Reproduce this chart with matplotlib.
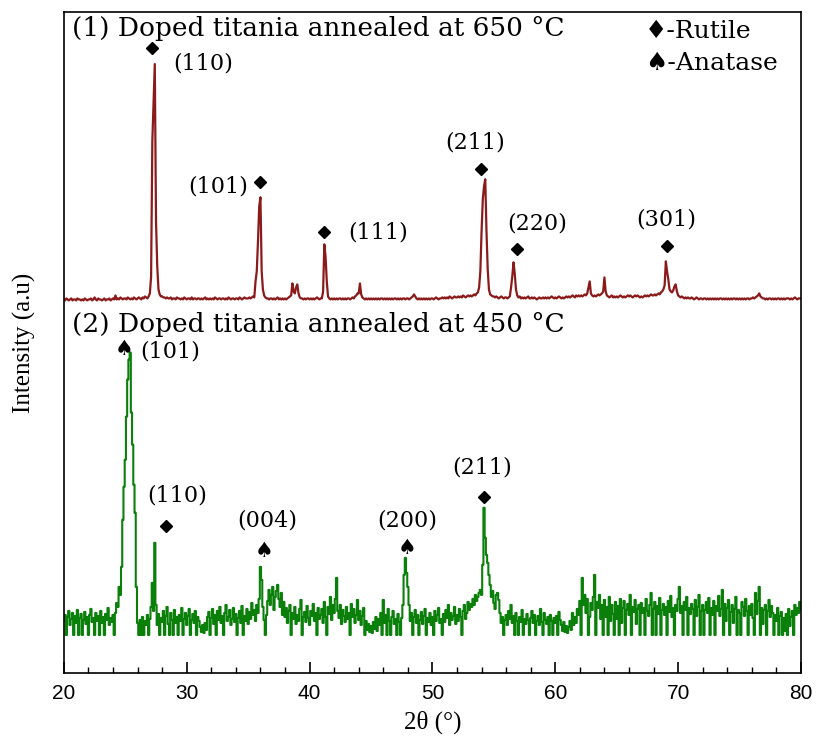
import numpy as np
import matplotlib
matplotlib.use("Agg")
import matplotlib.pyplot as plt
from matplotlib.ticker import MultipleLocator

# scan grid: 20-80 deg, 0.1 deg step
two_theta = np.round(np.arange(20.0, 80.05, 0.1), 1)

# (1) annealed at 650 C, intensity above its baseline
red_counts = [
    2, 1, 3, 2, 1, 2, 3, 1, 2, 2,          # 20
    1, 3, 2, 2, 1, 2, 1, 3, 2, 1,          # 21
    2, 2, 3, 1, 2, 4, 2, 1, 3, 2,          # 22
    2, 1, 2, 3, 1, 2, 2, 3, 1, 2,          # 23
    3, 2, 6, 2, 3, 2, 4, 3, 2, 3,          # 24
    3, 2, 4, 3, 2, 3, 2, 4, 3, 2,          # 25
    3, 4, 3, 2, 4, 3, 5, 4, 3, 5,          # 26
    8, 25, 160, 200, 237, 80, 35, 12, 7, 5,  # 27
    5, 4, 4, 3, 4, 3, 3, 4, 2, 3,          # 28
    3, 2, 4, 3, 3, 2, 3, 2, 4, 3,          # 29
    2, 3, 3, 2, 4, 2, 3, 3, 2, 3,          # 30
    3, 2, 3, 2, 3, 4, 2, 3, 2, 3,          # 31
    2, 3, 2, 4, 3, 2, 3, 3, 2, 3,          # 32
    3, 2, 3, 2, 4, 3, 2, 3, 3, 2,          # 33
    3, 3, 2, 4, 3, 2, 3, 4, 3, 3,          # 34
    3, 4, 3, 4, 5, 4, 20, 30, 60, 95,      # 35
    104, 30, 12, 6, 4, 3, 3, 2, 3, 3,      # 36
    2, 3, 2, 3, 4, 2, 3, 2, 3, 2,          # 37
    3, 2, 3, 4, 5, 6, 18, 10, 8, 14,       # 38
    17, 8, 4, 3, 3, 2, 3, 2, 3, 3,         # 39
    2, 3, 2, 3, 2, 3, 4, 3, 2, 3,          # 40
    3, 10, 57, 45, 20, 5, 3, 2, 3, 2,      # 41
    3, 2, 3, 2, 3, 3, 2, 3, 2, 3,          # 42
    2, 3, 3, 2, 3, 4, 3, 5, 6, 8,          # 43
    8, 18, 7, 4, 3, 2, 3, 2, 3, 2,         # 44
    3, 2, 3, 2, 3, 2, 3, 2, 3, 3,          # 45
    2, 3, 2, 3, 2, 3, 2, 3, 2, 3,          # 46
    3, 2, 3, 2, 3, 2, 3, 3, 2, 3,          # 47
    3, 2, 3, 4, 5, 7, 5, 3, 2, 3,          # 48
    2, 3, 2, 3, 2, 3, 2, 3, 2, 3,          # 49
    3, 2, 3, 4, 3, 2, 3, 3, 4, 3,          # 50
    4, 3, 4, 3, 5, 4, 3, 4, 5, 4,          # 51
    4, 5, 4, 5, 4, 6, 5, 4, 5, 6,          # 52
    5, 6, 5, 6, 7, 6, 8, 9, 14, 30,        # 53
    70, 102, 115, 122, 70, 32, 12, 7, 6, 5,  # 54
    5, 4, 5, 4, 3, 4, 5, 4, 3, 4,          # 55
    4, 3, 4, 5, 14, 25, 39, 28, 12, 6,     # 56
    4, 5, 3, 4, 3, 4, 3, 4, 5, 3,          # 57
    3, 4, 3, 4, 3, 2, 3, 4, 3, 3,          # 58
    4, 3, 4, 3, 4, 3, 4, 5, 4, 3,          # 59
    4, 3, 4, 5, 4, 3, 4, 3, 4, 5,          # 60
    4, 5, 4, 5, 6, 5, 4, 6, 5, 6,          # 61
    5, 6, 5, 6, 7, 6, 8, 14, 20, 8,        # 62
    6, 5, 6, 5, 6, 7, 6, 7, 8, 10,         # 63
    24, 10, 6, 5, 4, 5, 6, 4, 5, 4,        # 64
    5, 4, 5, 6, 5, 4, 5, 4, 5, 6,          # 65
    5, 6, 5, 4, 5, 6, 5, 6, 5, 4,          # 66
    5, 4, 5, 6, 5, 6, 5, 6, 7, 6,          # 67
    6, 7, 6, 7, 8, 7, 9, 10, 12, 16,       # 68
    40, 30, 22, 12, 10, 9, 11, 15, 17, 10,  # 69
    6, 5, 4, 5, 4, 3, 4, 3, 4, 3,          # 70
    3, 4, 3, 2, 3, 4, 3, 2, 3, 3,          # 71
    2, 3, 3, 2, 3, 2, 3, 2, 3, 2,          # 72
    3, 2, 3, 2, 3, 3, 2, 3, 2, 3,          # 73
    2, 3, 2, 3, 2, 3, 3, 2, 3, 2,          # 74
    3, 2, 3, 2, 3, 2, 3, 3, 2, 3,          # 75
    3, 4, 3, 4, 5, 6, 8, 5, 4, 3,          # 76
    3, 2, 3, 2, 3, 3, 2, 3, 2, 3,          # 77
    2, 3, 3, 2, 3, 2, 3, 2, 3, 3,          # 78
    3, 2, 3, 2, 3, 4, 3, 2, 3, 3,          # 79
    3,                                     # 80
]

# (2) annealed at 450 C, intensity above its baseline
green_counts = [
    14, 20, 0, 18, 24, 10, 16, 22, 0, 19,        # 20
    12, 25, 0, 17, 21, 0, 15, 23, 11, 18,        # 21
    0, 20, 26, 13, 17, 0, 22, 14, 19, 0,         # 22
    24, 12, 18, 0, 21, 15, 27, 10, 17, 13,       # 23
    20, 0, 22, 32, 28, 48, 40, 68, 115, 148,     # 24
    175, 218, 255, 275, 282, 222, 190, 150, 122, 48,  # 25
    12, 0, 15, 0, 18, 0, 14, 10, 20, 0,          # 26
    16, 28, 52, 24, 92, 30, 10, 21, 0, 17,       # 27
    13, 24, 0, 19, 28, 11, 0, 22, 15, 0,         # 28
    25, 12, 18, 0, 20, 14, 27, 0, 16, 22,        # 29
    10, 19, 26, 0, 15, 21, 12, 24, 0, 18,        # 30
    14, 8, 3, 10, 2, 12, 5, 18, 23, 0,           # 31
    17, 26, 11, 20, 0, 24, 15, 28, 12, 19,       # 32
    0, 22, 30, 14, 18, 25, 10, 16, 27, 13,       # 33
    21, 0, 17, 24, 12, 29, 0, 19, 14, 26,        # 34
    11, 23, 16, 32, 20, 25, 14, 30, 22, 36,      # 35
    68, 55, 28, 15, 0, 20, 34, 45, 30, 40,       # 36
    48, 25, 38, 44, 50, 36, 28, 42, 20, 33,      # 37
    18, 27, 12, 24, 30, 0, 22, 16, 28, 11,       # 38
    20, 14, 26, 35, 0, 18, 23, 13, 29, 17,       # 39
    10, 24, 19, 31, 14, 22, 0, 27, 16, 20,       # 40
    26, 12, 33, 18, 0, 28, 21, 38, 15, 30,       # 41
    22, 36, 57, 24, 17, 30, 11, 25, 19, 13,      # 42
    28, 16, 22, 0, 31, 18, 26, 12, 20, 35,       # 43
    15, 24, 10, 19, 27, 0, 14, 5, 11, 3,         # 44
    9, 2, 13, 6, 18, 4, 16, 10, 22, 0,           # 45
    35, 12, 20, 0, 26, 14, 0, 18, 24, 11,        # 46
    16, 0, 21, 13, 0, 17, 30, 60, 77, 62,        # 47
    48, 30, 14, 22, 0, 18, 25, 12, 20, 0,        # 48
    15, 23, 11, 19, 26, 0, 17, 13, 22, 10,       # 49
    18, 0, 24, 14, 20, 27, 12, 16, 0, 21,        # 50
    13, 25, 17, 30, 10, 22, 15, 19, 28, 11,      # 51
    20, 14, 26, 18, 0, 24, 30, 16, 22, 33,       # 52
    25, 31, 28, 36, 30, 40, 34, 38, 42, 45,      # 53
    40, 70, 127, 97, 80, 72, 60, 50, 38, 44,     # 54
    32, 26, 40, 42, 35, 22, 12, 18, 0, 15,       # 55
    20, 10, 24, 16, 30, 12, 19, 0, 22, 14,       # 56
    0, 18, 13, 25, 0, 16, 11, 21, 15, 0,         # 57
    17, 24, 12, 20, 0, 14, 19, 10, 26, 13,       # 58
    0, 22, 15, 11, 18, 0, 20, 14, 0, 17,         # 59
    12, 19, 0, 23, 15, 10, 4, 13, 3, 9,          # 60
    2, 8, 14, 5, 22, 10, 18, 12, 26, 20,         # 61
    34, 0, 57, 30, 40, 22, 36, 0, 18, 32,        # 62
    25, 38, 60, 0, 33, 27, 40, 16, 30, 0,        # 63
    35, 18, 28, 0, 38, 14, 30, 21, 0, 33,        # 64
    16, 29, 0, 36, 12, 27, 34, 0, 25, 31,        # 65
    20, 40, 0, 28, 23, 35, 11, 26, 30, 0,        # 66
    32, 22, 27, 0, 36, 24, 19, 30, 42, 0,        # 67
    26, 33, 0, 29, 21, 37, 0, 25, 31, 20,        # 68
    28, 0, 34, 23, 39, 18, 27, 0, 30, 24,        # 69
    36, 48, 22, 29, 0, 33, 25, 38, 0, 27,        # 70
    21, 31, 26, 0, 35, 19, 28, 40, 0, 24,        # 71
    30, 0, 25, 33, 22, 37, 0, 27, 20, 34,        # 72
    0, 29, 24, 39, 19, 26, 45, 0, 31, 14,        # 73
    27, 35, 0, 23, 30, 12, 26, 38, 0, 25,        # 74
    22, 0, 33, 28, 19, 36, 24, 0, 29, 20,        # 75
    31, 17, 0, 42, 21, 34, 48, 0, 27, 11,        # 76
    25, 30, 0, 24, 35, 18, 29, 22, 0, 20,        # 77
    14, 27, 0, 19, 23, 0, 17, 4, 21, 0,          # 78
    26, 9, 18, 24, 0, 30, 20, 27, 22, 33,        # 79
    25,                                          # 80
]

assert len(red_counts) == len(two_theta) == len(green_counts)

red_offset = 371
green_offset = 38

# peak labels: (2theta, y, text)
rutile_top = [(27.16, 624), (35.96, 490), (41.17, 440), (53.95, 503), (56.88, 423), (69.09, 426)]
labels_top = [(31.32, 609, "(110)"), (32.54, 486, "(101)"), (45.56, 440, "(111)"),
              (53.46, 530, "(211)"), (58.51, 449, "(220)"), (69.01, 453, "(301)")]
rutile_bot = [(28.30, 147), (54.19, 176)]
anatase_bot = [(24.88, 324), (36.28, 122), (47.92, 125)]
labels_bot = [(28.63, 321, "(101)"), (29.20, 177, "(110)"), (36.53, 152, "(004)"),
              (47.92, 152, "(200)"), (54.03, 205, "(211)")]

SERIF = ["DejaVu Serif"]
SYM = ["DejaVu Sans"]

fig = plt.figure(figsize=(8.19, 7.47), dpi=100)
ax = fig.add_axes([0.078, 0.099, 0.900, 0.885])

ax.plot(two_theta, np.array(red_counts) + red_offset, color="#8b1a1a", lw=1.6)
ax.plot(two_theta, np.array(green_counts) + green_offset, color="#0a800a", lw=1.5,
        drawstyle="steps-mid")

ax.plot([p[0] for p in rutile_top], [p[1] for p in rutile_top], "D", color="black", ms=6.5)
ax.plot([p[0] for p in rutile_bot], [p[1] for p in rutile_bot], "D", color="black", ms=6.5)
for x, y in anatase_bot:
    ax.text(x, y, "\u2660", family=SYM, fontsize=15, ha="center", va="center")
for x, y, s in labels_top + labels_bot:
    ax.text(x, y, s, family=SERIF, fontsize=16, ha="center", va="center")

ax.text(20.65, 643, "(1) Doped titania annealed at 650 \u00b0C", family=SERIF,
        fontsize=19, ha="left", va="center")
ax.text(20.65, 348, "(2) Doped titania annealed at 450 \u00b0C", family=SERIF,
        fontsize=19, ha="left", va="center")
ax.text(67.3, 640, "\u2666-Rutile", family=SERIF, fontsize=18, ha="left", va="center")
ax.text(67.3, 609, "\u2660-Anatase", family=SERIF, fontsize=18, ha="left", va="center")

ax.set_xlim(20, 80)
ax.set_ylim(0, 660)
ax.set_yticks([])
ax.xaxis.set_major_locator(MultipleLocator(10))
ax.xaxis.set_minor_locator(MultipleLocator(2))
ax.tick_params(axis="x", which="major", direction="in", length=8, width=1.2,
               labelsize=15, pad=8, top=False)
ax.tick_params(axis="x", which="minor", direction="in", length=4, width=1.0, top=False)
for lab in ax.get_xticklabels():
    lab.set_family("Liberation Sans")
for sp in ax.spines.values():
    sp.set_linewidth(1.2)

ax.set_xlabel("2\u03b8 (\u00b0)", family=["Liberation Serif"], fontsize=18, labelpad=5)
ax.set_ylabel("Intensity (a.u)", family=["Liberation Serif"], fontsize=18, labelpad=20)

fig.savefig("out.png", dpi=100)
